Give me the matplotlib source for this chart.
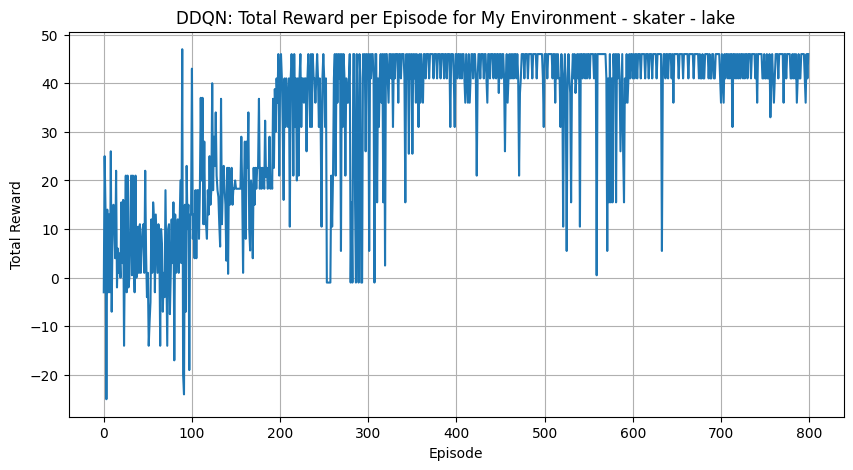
import matplotlib
matplotlib.use("Agg")
import matplotlib.pyplot as plt
import numpy as np

title = "DDQN: Total Reward per Episode for My Environment - skater - lake"
x_label = "Episode"
y_label = "Total Reward"

rewards_000_099 = [
    -3, 25, 14, -25, 14, -3, 13, -3, 26, -7,
    10, 15, 11, 4, 22, -2, 6, 1, 5, 0,
    15.5, 3, 16, -14, 7, 21, -3, 21, -2, 0,
    10, 21, 0.5, 21, 5, -3, 21, 0, 1, 10.5,
    1, 11, 1, 6, 10, 11, 1, 22, 5, -4,
    1, -14, -9, -5, 12, 1, 15.5, 12, -3, 13,
    7, 1, 11, 8, -14, 10, 7, -7, 1, -4,
    18, 1, -14, 10, 11, -7.5, 1, 12, 3, 15.5,
    -17, 13, 1, 6, 12, 1, 11, 20, 3, 47,
    -20, -24, 15, -7, 23, 10, 15, -19, 13, 13,
]
rewards_100_199 = [
    43, 8, 13, 4, 18, 4, 18, 18, 8, 18,
    37, 20, 37, 11, 28, 11, 11, 8, 18, 13,
    25, 15, 18, 40, 18, 29, 23, 34, 21, 18,
    16.6, 11, 6.4, 36.8, 11, 18.3, 23, 18.3, 15, 3.5,
    22.6, 0.8, 22.6, 15, 18.3, 22.6, 15, 18.3, 18.3, 20,
    18.3, 18.3, 18.3, 18.3, 18.3, 18.3, 29, 18.3, 1, 18.3,
    28, 8, 28, 22.6, 34, 10, 5.6, 20, 18.3, 4,
    22.6, 15, 22.6, 18.3, 22.6, 22.6, 36.8, 18.3, 22.6, 18.3,
    22.6, 20.7, 18.3, 32.3, 20.7, 22.6, 18.3, 20.7, 29, 18.3,
    20.7, 18.3, 36.8, 22.6, 38.8, 30, 41, 36, 46, 21,
]
rewards_200_299 = [
    41, 46, 41, 31, 16, 41, 31, 41, 36, 31,
    41, 10.5, 41, 46, 41, 21, 46, 31, 41, 20,
    41, 21, 41, 46, 31, 41, 41, 36, 41, 41,
    26, 41, 46, 41, 31, 46, 31, 46, 41, 41,
    36, 41, 46, 41, 31, 41, 31, 10.5, 41, 46,
    41, 31, 41, -1, -1, -1, -1, -1, 21, 10.5,
    21, 41, 46, 21, 46, 36, 46, 41, 46, 5.5,
    46, 31, 46, 41, 21, 41, 36, 36, 41, 46,
    -1, 15.5, -1, 46, 46, 15.5, -1, 46, 26, -1,
    46, 41, -1, -1, 46, 41, 46, 26, 46, 41,
]
rewards_300_399 = [
    46, 5.5, 46, 41, 46, 46, 41, -1, 46, 46,
    15.5, 41, 31, 41, 46, 36, 46, 15.5, 46, 2.5,
    46, 46, 41, 36, 46, 46, 41, 46, 31, 46,
    41, 46, 46, 46, 36, 46, 46, 41, 46, 46,
    46, 41, 15.5, 46, 41, 46, 25.5, 46, 41, 46,
    25.5, 46, 41, 46, 36, 46, 41, 31, 46, 36,
    46, 41, 36, 46, 46, 41, 46, 46, 46, 41,
    46, 46, 46, 46, 41, 46, 46, 46, 41, 46,
    46, 46, 41, 46, 46, 46, 41, 46, 46, 41,
    46, 46, 46, 31, 46, 46, 46, 41, 31, 46,
]
rewards_400_499 = [
    46, 41, 46, 46, 41, 46, 41, 46, 46, 41,
    36, 46, 41, 36, 46, 36, 41, 46, 46, 41,
    46, 46, 41, 21, 41, 46, 46, 41, 46, 46,
    46, 41, 46, 46, 41, 36, 46, 46, 41, 46,
    46, 46, 41, 46, 46, 41, 46, 46, 38, 46,
    46, 41, 46, 46, 41, 26, 41, 46, 36, 41,
    46, 41, 46, 41, 46, 41, 46, 46, 41, 46,
    41, 21, 38, 41, 46, 46, 46, 41, 46, 46,
    46, 41, 46, 46, 46, 46, 41, 46, 46, 46,
    46, 41, 46, 46, 46, 46, 46, 46, 41, 31,
]
rewards_500_599 = [
    46, 46, 46, 41, 46, 46, 46, 46, 46, 41,
    46, 46, 36, 46, 41, 46, 41, 41, 31, 46,
    41, 10.5, 41, 46, 36, 5.5, 41, 46, 41, 38,
    15.5, 41, 46, 41, 46, 38, 41, 46, 41, 46,
    10.5, 46, 46, 41, 46, 46, 41, 46, 41, 46,
    46, 41, 46, 46, 46, 46, 41, 46, 46, 0.5,
    46, 46, 46, 46, 46, 46, 46, 46, 46, 46,
    41, 5.5, 41, 15.5, 46, 15.5, 41, 15.5, 46, 41,
    46, 15.5, 46, 41, 46, 41, 26, 36, 46, 26,
    15.5, 41, 36, 46, 36, 41, 46, 41, 46, 46,
]
rewards_600_699 = [
    41, 46, 41, 46, 46, 41, 46, 46, 46, 41,
    46, 46, 46, 46, 41, 46, 46, 46, 41, 46,
    46, 46, 41, 46, 46, 46, 46, 41, 46, 46,
    46, 46, 46, 5.5, 41, 46, 46, 41, 46, 46,
    41, 46, 46, 46, 41, 46, 36, 46, 46, 46,
    46, 46, 41, 46, 46, 46, 46, 41, 46, 46,
    46, 46, 46, 41, 46, 46, 46, 46, 46, 41,
    46, 46, 46, 46, 46, 41, 46, 41, 41, 46,
    41, 41, 46, 46, 46, 46, 41, 46, 41, 41,
    46, 46, 41, 41, 46, 46, 46, 46, 46, 41,
]
rewards_700_799 = [
    36, 46, 41, 36, 46, 41, 46, 46, 41, 46,
    41, 46, 46, 31, 46, 46, 41, 46, 41, 46,
    41, 46, 41, 46, 46, 41, 46, 41, 46, 46,
    41, 46, 46, 46, 41, 46, 46, 46, 46, 41,
    46, 36, 46, 46, 46, 46, 46, 41, 41, 46,
    41, 41, 46, 41, 41, 46, 33, 41, 46, 41,
    36, 41, 46, 46, 46, 41, 46, 46, 46, 46,
    46, 36, 46, 46, 41, 46, 46, 46, 46, 41,
    41, 46, 41, 46, 41, 46, 36, 41, 46, 41,
    41, 46, 46, 46, 46, 41, 36, 46, 41, 46,
]

rewards = (rewards_000_099 + rewards_100_199 + rewards_200_299 + rewards_300_399
           + rewards_400_499 + rewards_500_599 + rewards_600_699 + rewards_700_799)
episodes = np.arange(len(rewards))

fig, ax = plt.subplots(figsize=(10, 5), dpi=100)
ax.plot(episodes, rewards, color="#1f77b4", linewidth=1.5)
ax.set_title(title)
ax.set_xlabel(x_label)
ax.set_ylabel(y_label)
ax.grid(True)
fig.savefig("out.png", dpi=100, bbox_inches="tight")
